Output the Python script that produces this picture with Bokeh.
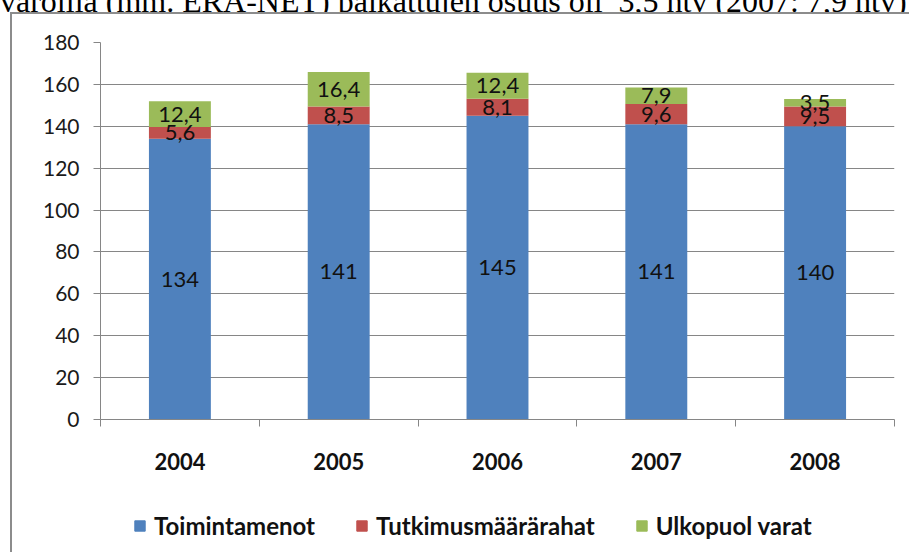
from bokeh.plotting import figure
from bokeh.models import (Range1d, LinearAxis, FixedTicker, ColumnDataSource, Legend, LegendItem, Div)
from bokeh.layouts import column
from bokeh.core.properties import value
from bokeh.embed import file_html
from bokeh.resources import INLINE

years = ["2004", "2005", "2006", "2007", "2008"]
series = ["Toimintamenot", "Tutkimusmäärärahat", "Ulkopuol varat"]
toimintamenot = [134, 141, 145, 141, 140]
tutkimus = [5.6, 8.5, 8.1, 9.6, 9.5]
ulkopuol = [12.4, 16.4, 12.4, 7.9, 3.5]
y_ticks = [0, 20, 40, 60, 80, 100, 120, 140, 160, 180]
top_text = "varoilla (mm. ERA-NET) palkattujen osuus oli&nbsp; 3,5 htv (2007: 7,9 htv)"

colors = ["#4F81BD", "#C0504D", "#9BBB59"]
FONT = "Lato"
GRID = "#868686"
BORDER = "2px solid #8c8c8c"

n = len(years)
xpos = [i + 0.5 for i in range(n)]  # category slot centres

p = figure(x_range=Range1d(0, n), y_range=Range1d(0, 180), width=899, height=480,
           output_backend="svg", toolbar_location=None, x_axis_location=None,
           min_border_left=88, min_border_right=17, min_border_top=28, min_border_bottom=75)
p.outline_line_color = None
p.background_fill_color = "white"
p.border_fill_color = "white"
p.margin = (0, 0, 0, 10)
p.styles = {"border-left": BORDER, "border-top": BORDER}

src = ColumnDataSource(dict(x=xpos, a=toimintamenot, b=tutkimus, c=ulkopuol))
rs = p.vbar_stack(["a", "b", "c"], x="x", width=0.39, source=src, color=colors, line_color=None)

# y axis
ya = p.yaxis[0]
ya.ticker = FixedTicker(ticks=y_ticks)
ya.axis_line_color = GRID
ya.major_tick_line_color = GRID
ya.major_tick_out = 7
ya.major_tick_in = 0
ya.minor_tick_line_color = None
ya.major_label_text_font = FONT
ya.major_label_text_font_size = "21px"
ya.major_label_text_color = "#1a1a1a"
ya.major_label_standoff = 14
p.ygrid.grid_line_color = GRID
p.ygrid.ticker = FixedTicker(ticks=y_ticks)
p.xgrid.grid_line_color = None

# x axis: labels at slot centres, tick marks at slot boundaries
xa = LinearAxis(ticker=FixedTicker(ticks=xpos, minor_ticks=list(range(n + 1))),
                major_label_overrides={c: y for c, y in zip(xpos, years)})
xa.axis_line_color = GRID
xa.major_tick_line_color = None
xa.major_tick_out = 7
xa.major_tick_in = 0
xa.minor_tick_line_color = GRID
xa.minor_tick_out = 7
xa.minor_tick_in = 0
xa.major_label_text_font = FONT
xa.major_label_text_font_style = "bold"
xa.major_label_text_font_size = "22px"
xa.major_label_text_color = "#111111"
xa.major_label_standoff = 26
p.add_layout(xa, "below")

# data labels centered in each segment
ys_a, ys_b, ys_c = [], [], []
for a, b, c in zip(toimintamenot, tutkimus, ulkopuol):
    ys_a.append(a / 2)
    ys_b.append(a + b / 2)
    ys_c.append(a + b + c / 2)
fmt = lambda v: (f"{v:g}").replace(".", ",")
lab = ColumnDataSource(dict(
    x=xpos * 3,
    y=ys_a + ys_b + ys_c,
    t=[fmt(v) for v in toimintamenot + tutkimus + ulkopuol]))
p.text(x="x", y="y", text="t", source=lab, text_align="center", text_baseline="middle",
       text_font=value(FONT), text_font_size="22px", text_color="#111111")

# legend strip (continues the chart box below the axis; its frame is aligned with the chart's)
lf = figure(x_range=Range1d(0, 1), y_range=Range1d(0, 1), width=899, height=60,
            output_backend="svg", toolbar_location=None, x_axis_location=None,
            y_axis_location=None, min_border=0)
lf.outline_line_color = None
lf.grid.grid_line_color = None
lf.margin = (0, 0, 0, 10)
lf.styles = {"border-left": BORDER}
# swatch renderers for the legend only: placed below the visible range so nothing is drawn
swatches = [lf.vbar(x=[0.5], bottom=[-3], top=[-2], width=0.1, color=c) for c in colors]
lg = Legend(items=[LegendItem(label=nm, renderers=[r]) for nm, r in zip(series, swatches)],
            location=(33, 12), orientation="horizontal", glyph_width=13, glyph_height=13,
            label_standoff=8, spacing=40, label_text_font=FONT, label_text_font_style="bold",
            label_text_font_size="24px", label_text_color="#111111", padding=0, margin=0,
            border_line_color=None, background_fill_alpha=0, label_height=24)
lf.add_layout(lg, "center")

# cut-off text line above the chart
top = Div(text=('<div style="font-family:\'Liberation Serif\';font-size:32px;line-height:30px;'
                'margin-top:-15px;white-space:nowrap;color:black;">' + top_text + '</div>'),
          width=911, height=12, margin=0, styles={"overflow": "hidden"})

layout = column(top, p, lf, spacing=0)
open("out.html", "w").write(file_html(layout, INLINE))
